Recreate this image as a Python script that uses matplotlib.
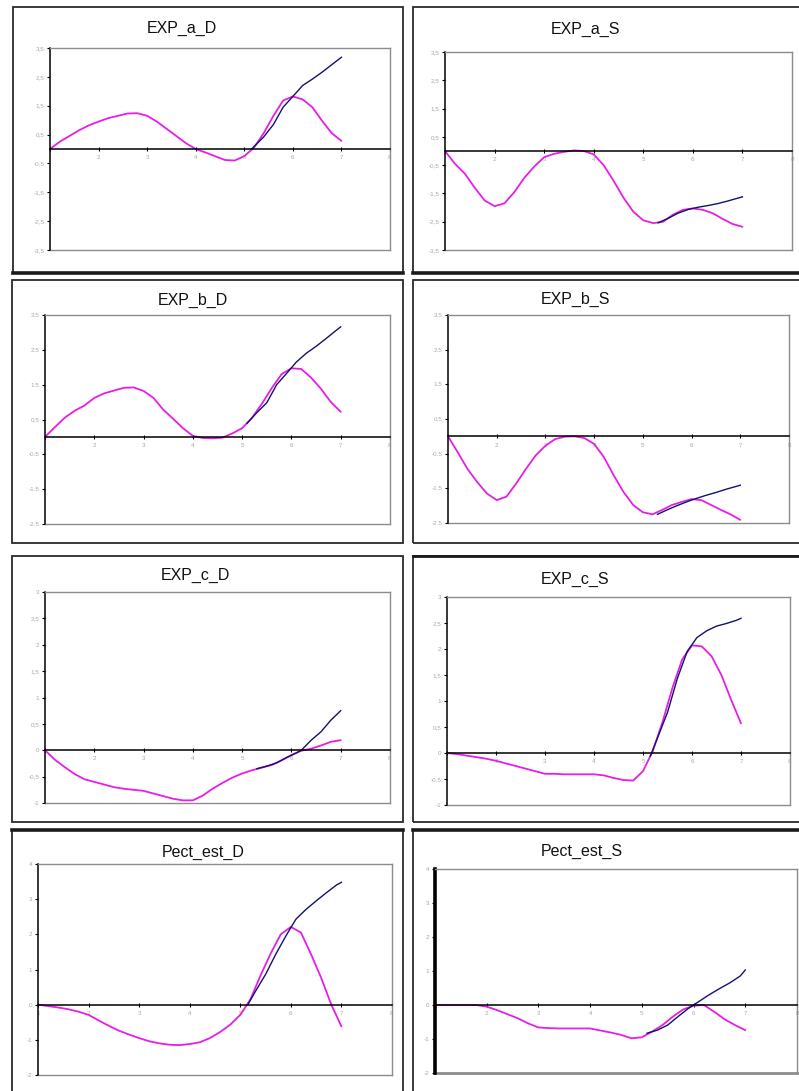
import matplotlib
matplotlib.use("Agg")
import matplotlib.pyplot as plt
from matplotlib.patches import Rectangle
from matplotlib.lines import Line2D

# ---------------------------------------------------------------
# data: pink = estimated path, navy = forecast branch
# ---------------------------------------------------------------
X_GRID = [1.0, 1.2, 1.4, 1.6, 1.8, 2.0, 2.2, 2.4, 2.6, 2.8, 3.0,
          3.2, 3.4, 3.6, 3.8, 4.0, 4.2, 4.4, 4.6, 4.8, 5.0,
          5.2, 5.4, 5.6, 5.8, 6.0, 6.2, 6.4, 6.6, 6.8, 7.0]

PINK_A_D = [0.0, 0.25, 0.45, 0.65, 0.82, 0.95, 1.07, 1.15, 1.23, 1.24, 1.15,
            0.95, 0.7, 0.45, 0.2, 0.0, -0.12, -0.25, -0.38, -0.4, -0.25,
            0.05, 0.55, 1.15, 1.68, 1.82, 1.72, 1.45, 0.98, 0.55, 0.28]
NAVY_X_A_D = [5.15, 5.3, 5.4, 5.6, 5.8, 6.0, 6.2, 6.4, 6.6, 6.8, 7.0]
NAVY_A_D = [0.0, 0.25, 0.42, 0.85, 1.45, 1.82, 2.2, 2.42, 2.66, 2.92, 3.18]

PINK_A_S = [0.0, -0.45, -0.8, -1.3, -1.75, -1.95, -1.85, -1.45, -0.95, -0.55, -0.22,
            -0.1, -0.03, 0.02, 0.0, -0.12, -0.5, -1.05, -1.65, -2.15, -2.45,
            -2.55, -2.5, -2.25, -2.08, -2.03, -2.08, -2.2, -2.4, -2.58, -2.68]
NAVY_X_A_S = [5.3, 5.5, 5.7, 5.9, 6.1, 6.3, 6.5, 6.7, 6.9, 7.0]
NAVY_A_S = [-2.54, -2.38, -2.2, -2.07, -1.99, -1.93, -1.86, -1.77, -1.67, -1.62]

PINK_B_D = [0.0, 0.28, 0.55, 0.75, 0.9, 1.12, 1.25, 1.33, 1.41, 1.42, 1.32,
            1.12, 0.78, 0.52, 0.25, 0.03, -0.03, -0.04, -0.02, 0.1, 0.25,
            0.55, 0.95, 1.4, 1.8, 1.97, 1.95, 1.7, 1.38, 1.0, 0.72]
NAVY_X_B_D = [5.1, 5.3, 5.5, 5.7, 5.9, 6.1, 6.3, 6.5, 6.7, 6.9, 7.0]
NAVY_B_D = [0.39, 0.7, 0.98, 1.5, 1.82, 2.15, 2.4, 2.6, 2.82, 3.05, 3.16]

PINK_B_S = [0.0, -0.46, -0.94, -1.32, -1.65, -1.84, -1.74, -1.36, -0.94, -0.55, -0.27,
            -0.08, -0.01, 0.0, -0.05, -0.22, -0.6, -1.12, -1.6, -1.98, -2.19,
            -2.25, -2.12, -1.98, -1.89, -1.81, -1.84, -1.98, -2.12, -2.25, -2.41]
NAVY_X_B_S = [5.3, 5.5, 5.7, 5.9, 6.1, 6.3, 6.5, 6.7, 6.9, 7.0]
NAVY_B_S = [-2.25, -2.12, -2.0, -1.89, -1.79, -1.7, -1.62, -1.53, -1.45, -1.41]

PINK_C_D = [0.0, -0.18, -0.32, -0.45, -0.55, -0.6, -0.65, -0.7, -0.73, -0.75, -0.77,
            -0.82, -0.87, -0.92, -0.95, -0.95, -0.86, -0.73, -0.62, -0.52, -0.44,
            -0.38, -0.33, -0.28, -0.19, -0.09, -0.01, 0.03, 0.09, 0.16, 0.19]
NAVY_X_C_D = [5.3, 5.5, 5.7, 5.9, 6.1, 6.2, 6.4, 6.6, 6.8, 7.0]
NAVY_C_D = [-0.35, -0.3, -0.24, -0.14, -0.05, 0.0, 0.19, 0.35, 0.57, 0.75]

PINK_C_S = [0.0, -0.02, -0.05, -0.08, -0.11, -0.15, -0.2, -0.25, -0.3, -0.35, -0.4,
            -0.4, -0.41, -0.41, -0.41, -0.41, -0.43, -0.48, -0.52, -0.53, -0.35,
            0.04, 0.6, 1.25, 1.8, 2.07, 2.05, 1.86, 1.5, 1.02, 0.57]
NAVY_X_C_S = [5.15, 5.3, 5.5, 5.7, 5.9, 6.1, 6.3, 6.5, 6.7, 6.9, 7.0]
NAVY_C_S = [-0.06, 0.3, 0.78, 1.43, 1.95, 2.22, 2.35, 2.44, 2.49, 2.55, 2.59]

PINK_P_D = [0.0, -0.04, -0.08, -0.13, -0.2, -0.29, -0.45, -0.6, -0.74, -0.85, -0.95,
            -1.04, -1.1, -1.14, -1.15, -1.12, -1.07, -0.95, -0.78, -0.57, -0.29,
            0.15, 0.83, 1.45, 2.0, 2.21, 2.05, 1.43, 0.76, 0.0, -0.62]
NAVY_X_P_D = [5.15, 5.3, 5.5, 5.7, 5.9, 6.1, 6.3, 6.5, 6.7, 6.9, 7.0]
NAVY_P_D = [0.0, 0.38, 0.86, 1.43, 1.95, 2.43, 2.71, 2.95, 3.18, 3.4, 3.48]

PINK_P_S = [0.0, 0.0, 0.0, 0.0, 0.0, -0.05, -0.15, -0.27, -0.39, -0.54, -0.66,
            -0.68, -0.69, -0.69, -0.69, -0.69, -0.75, -0.81, -0.88, -0.98, -0.95,
            -0.78, -0.59, -0.34, -0.13, -0.02, 0.0, -0.2, -0.42, -0.59, -0.74]
NAVY_X_P_S = [5.1, 5.3, 5.5, 5.7, 5.9, 6.1, 6.3, 6.5, 6.7, 6.9, 7.0]
NAVY_P_S = [-0.83, -0.74, -0.59, -0.34, -0.1, 0.1, 0.3, 0.48, 0.65, 0.85, 1.03]

TITLES = ["EXP_a_D", "EXP_a_S", "EXP_b_D", "EXP_b_S",
          "EXP_c_D", "EXP_c_S", "Pect_est_D", "Pect_est_S"]

Y_TICKS_A = [3.5, 2.5, 1.5, 0.5, -0.5, -1.5, -2.5, -3.5]
Y_LABELS_A = ["3,5", "2,5", "1,5", "0,5", "-0,5", "-1,5", "-2,5", "-3,5"]
Y_TICKS_B = [3.5, 2.5, 1.5, 0.5, -0.5, -1.5, -2.5]
Y_LABELS_B = ["3.5", "2.5", "1.5", "0.5", "-0.5", "-1.5", "-2.5"]
Y_TICKS_C = [3, 2.5, 2, 1.5, 1, 0.5, 0, -0.5, -1]
Y_LABELS_C = ["3", "2,5", "2", "1,5", "1", "0,5", "0", "-0,5", "-1"]
Y_TICKS_P = [4, 3, 2, 1, 0, -1, -2]
Y_LABELS_P = ["4", "3", "2", "1", "0", "-1", "-2"]

X_TICKS = [1, 2, 3, 4, 5, 6, 7, 8]
X_LABELS = ["", "2", "3", "4", "5", "6", "7", "8"]

PINK = "#e61ee6"
NAVY = "#12126e"
GRID_GREY = "#8c8c8c"
LABEL_GREY = "#a8a8a8"

W, H = 799, 1091

# ---------------------------------------------------------------
# layout (pixels from the top-left corner)
# ---------------------------------------------------------------
# outer frames: (x0, y0, x1, y1)
FRAMES = [(13, 7, 403, 273), (413, 7, 801, 273),
          (12, 280, 403, 543), (413, 280, 801, 543),
          (12, 556, 403, 822), (413, 556, 801, 822),
          (12, 830, 403, 1095), (413, 830, 801, 1095)]
# plot areas: (x0, y0, x1, y1)
AREAS = [(50, 48, 390, 250), (445, 52, 792, 250),
         (45, 315, 390, 524), (448, 315, 789, 523),
         (45, 592, 390, 803), (447, 597, 790, 805),
         (38, 864, 392, 1075), (435, 869, 797, 1073)]
TITLE_POS = [(182, 28), (585, 29), (193, 300), (575, 299),
             (195, 575), (575, 579), (203, 852), (582, 851)]


def px_axes(fig, box):
    x0, y0, x1, y1 = box
    return fig.add_axes([x0 / W, 1 - y1 / H, (x1 - x0) / W, (y1 - y0) / H])


def frame(fig, box, lw=1.3):
    x0, y0, x1, y1 = box
    fig.add_artist(Rectangle((x0 / W, 1 - y1 / H), (x1 - x0) / W, (y1 - y0) / H,
                             transform=fig.transFigure, fill=False,
                             edgecolor="#2a2a2a", linewidth=lw))


def hline(fig, x0, x1, y, lw):
    fig.add_artist(Line2D([x0 / W, x1 / W], [1 - y / H, 1 - y / H],
                          transform=fig.transFigure, color="#1a1a1a", linewidth=lw))


def draw_panel(ax, pink, nx, navy, yticks, ylabels, xlabels, heavy=False):
    ymin, ymax = min(yticks), max(yticks)
    ax.set_xlim(1, 8)
    ax.set_ylim(ymin, ymax)

    for side in ("top", "right"):
        ax.spines[side].set_color(GRID_GREY)
        ax.spines[side].set_linewidth(1.0)
    ax.spines["left"].set_color("black")
    ax.spines["left"].set_linewidth(2.6 if heavy else 1.1)
    # category axis crosses the value axis at zero
    ax.spines["bottom"].set_position(("data", 0))
    ax.spines["bottom"].set_color("black")
    ax.spines["bottom"].set_linewidth(1.1)
    ax.axhline(ymin, color=GRID_GREY, linewidth=2.0 if heavy else 1.0, clip_on=False)

    ax.set_xticks(X_TICKS)
    ax.set_xticklabels(xlabels)
    ax.set_yticks(yticks)
    ax.set_yticklabels(ylabels)
    ax.tick_params(axis="x", direction="inout", length=3, width=0.8, color="black",
                   labelsize=4.5, labelcolor=LABEL_GREY, pad=3)
    ax.tick_params(axis="y", direction="out", length=2, width=0.8, color="black",
                   labelsize=4.5, labelcolor=LABEL_GREY, pad=2)

    ax.plot(X_GRID, pink, color=PINK, linewidth=1.3, solid_capstyle="round")
    ax.plot(nx, navy, color=NAVY, linewidth=1.0)


fig = plt.figure(figsize=(W / 100, H / 100), dpi=100)
fig.patch.set_facecolor("white")
plt.rcParams["font.family"] = ["Liberation Sans", "DejaVu Sans"]

PANELS = [
    (PINK_A_D, NAVY_X_A_D, NAVY_A_D, Y_TICKS_A, Y_LABELS_A),
    (PINK_A_S, NAVY_X_A_S, NAVY_A_S, Y_TICKS_A, Y_LABELS_A),
    (PINK_B_D, NAVY_X_B_D, NAVY_B_D, Y_TICKS_B, Y_LABELS_B),
    (PINK_B_S, NAVY_X_B_S, NAVY_B_S, Y_TICKS_B, Y_LABELS_B),
    (PINK_C_D, NAVY_X_C_D, NAVY_C_D, Y_TICKS_C, Y_LABELS_C),
    (PINK_C_S, NAVY_X_C_S, NAVY_C_S, Y_TICKS_C, Y_LABELS_C),
    (PINK_P_D, NAVY_X_P_D, NAVY_P_D, Y_TICKS_P, Y_LABELS_P),
    (PINK_P_S, NAVY_X_P_S, NAVY_P_S, Y_TICKS_P, Y_LABELS_P),
]

for i, (pink, nx, navy, yt, yl) in enumerate(PANELS):
    frame(fig, FRAMES[i])
    ax = px_axes(fig, AREAS[i])
    xl = ["1"] + X_LABELS[1:] if TITLES[i] == "Pect_est_D" else X_LABELS
    draw_panel(ax, pink, nx, navy, yt, yl, xl, heavy=(TITLES[i] == "Pect_est_S"))
    tx, ty = TITLE_POS[i]
    fig.text(tx / W, 1 - ty / H, TITLES[i], ha="center", va="center",
             fontsize=11.5, color="#111111")

# heavier frame edges
hline(fig, 13, 403, 273, 2.6)
hline(fig, 413, 799, 273, 2.6)
hline(fig, 12, 403, 830, 2.6)
hline(fig, 413, 799, 830, 2.6)
hline(fig, 413, 799, 556, 2.0)

fig.savefig("out.png", dpi=100, facecolor="white")
plt.close(fig)
